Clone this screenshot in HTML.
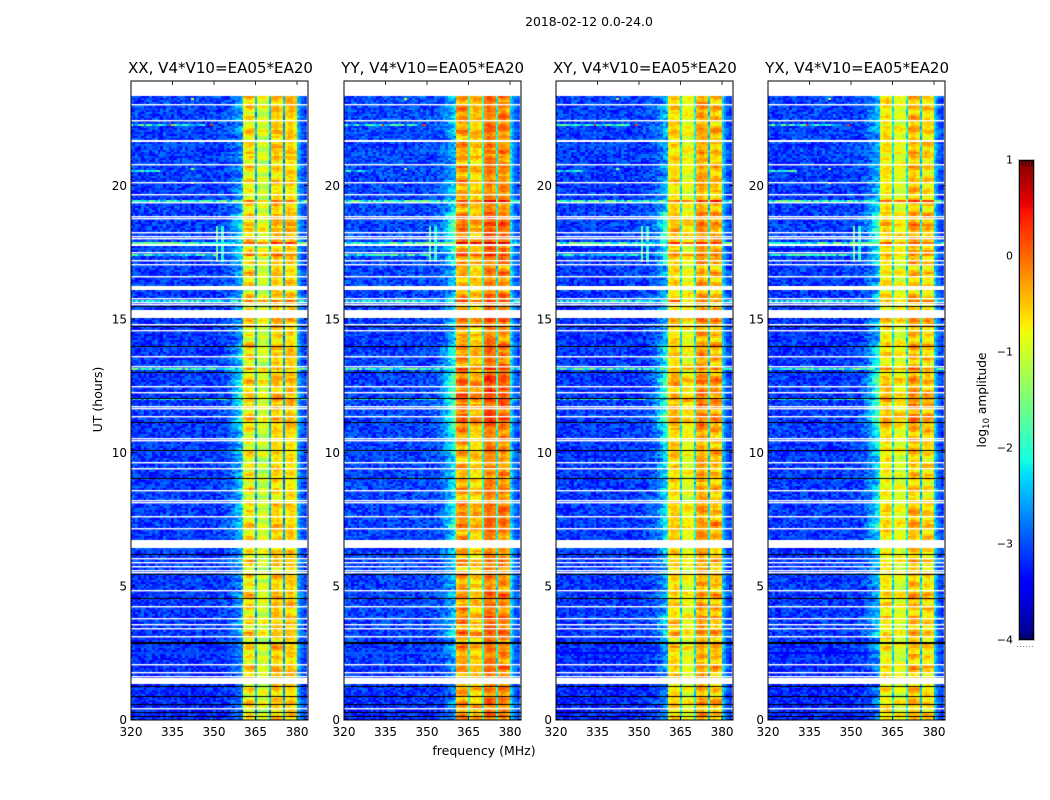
<!DOCTYPE html>
<html lang="en">
<head>
<meta charset="utf-8">
<title>2018-02-12 0.0-24.0</title>
<style>
html,body{margin:0;padding:0;background:#fff}
#figure{position:relative;width:1050px;height:800px;overflow:hidden;background:#fff;font-family:"DejaVu Sans","Liberation Sans",sans-serif}
canvas{position:absolute;display:block}
svg{position:absolute;left:0;top:0}
svg text{fill:#000;font-family:"DejaVu Sans","Liberation Sans",sans-serif}
</style>
</head>
<body>
<div id="figure">
<canvas id="cv0"></canvas>
<canvas id="cv1"></canvas>
<canvas id="cv2"></canvas>
<canvas id="cv3"></canvas>
<canvas id="cbar"></canvas>
<svg id="overlay" width="1050" height="800" xmlns="http://www.w3.org/2000/svg">
<text x="589" y="26" text-anchor="middle" font-size="12.4">2018-02-12 0.0-24.0</text>
<text x="484" y="755" text-anchor="middle" font-size="12.5">frequency (MHz)</text>
<text transform="translate(102,399.5) rotate(-90)" text-anchor="middle" font-size="12.5">UT (hours)</text>
<text transform="translate(986,400) rotate(-90)" text-anchor="middle" font-size="12.2">log<tspan font-size="8.5" dy="3">10</tspan><tspan dy="-3"> amplitude</tspan></text>
</svg>
</div>
<script>
/* ---------- chart data ---------- */
const panelTitles = ["XX, V4*V10=EA05*EA20","YY, V4*V10=EA05*EA20","XY, V4*V10=EA05*EA20","YX, V4*V10=EA05*EA20"];
const freqTicks = [320,335,350,365,380];
const hourTicks = [0,5,10,15,20];
const colorTicks = [1,0,-1,-2,-3,-4];
const colorTickLabels = ["1","0","\u22121","\u22122","\u22123","\u22124"];

/* log10 amplitude per 1 MHz channel, 320..383 MHz */
const spectrumXX = [-3.1,-3.1,-3.1,-3.15,-3.1,-3.15,-3.1,-3.1,-3.15,-3.1,-3.1,-3.15,-3.1,-3.1,-3.1,-3.15,-3.1,-3.1,-3.15,-3.1,-3.1,-3.1,-3.15,-3.1,-3.1,-3.1,-3.15,-3.1,-3.1,-3.1,-3.1,-3.1,-3.1,-3.1,-3.1,-3.1,-3.1,-3.1,-3.1,-3.1,-3.1,-0.9,-0.72,-0.66,-0.75,-2.55,-1.05,-1.0,-0.98,-1.05,-2.5,-0.62,-0.52,-0.52,-0.68,-2.65,-0.65,-0.55,-0.55,-0.7,-2.5,-2.7,-2.95,-3.1];
const spectrumYY = [-3.05,-3.05,-3.05,-3.1,-3.05,-3.1,-3.05,-3.05,-3.1,-3.05,-3.05,-3.1,-3.05,-3.05,-3.05,-3.1,-3.05,-3.05,-3.1,-3.05,-3.05,-3.05,-3.1,-3.05,-3.05,-3.05,-3.1,-3.05,-3.05,-3.05,-3.05,-3.05,-3.05,-3.05,-3.05,-3.05,-3.05,-3.05,-3.05,-3.05,-3.05,-0.5,-0.35,-0.3,-0.4,-2.1,-0.65,-0.55,-0.55,-0.62,-2.1,-0.22,-0.1,-0.1,-0.26,-2.2,-0.32,-0.16,-0.2,-0.4,-2.3,-2.6,-2.9,-3.05];
const spectrumXY = [-3.1,-3.1,-3.1,-3.15,-3.1,-3.15,-3.1,-3.1,-3.15,-3.1,-3.1,-3.15,-3.1,-3.1,-3.1,-3.15,-3.1,-3.1,-3.15,-3.1,-3.1,-3.1,-3.15,-3.1,-3.1,-3.1,-3.15,-3.1,-3.1,-3.1,-3.1,-3.1,-3.1,-3.1,-3.1,-3.1,-3.1,-3.1,-3.1,-3.1,-3.1,-0.8,-0.62,-0.58,-0.68,-2.3,-0.9,-0.85,-0.85,-0.92,-2.25,-0.45,-0.32,-0.32,-0.5,-2.4,-0.6,-0.45,-0.45,-0.6,-2.4,-2.7,-2.95,-3.1];
const spectrumYX = [-3.1,-3.1,-3.1,-3.15,-3.1,-3.15,-3.1,-3.1,-3.15,-3.1,-3.1,-3.15,-3.1,-3.1,-3.1,-3.15,-3.1,-3.1,-3.15,-3.1,-3.1,-3.1,-3.15,-3.1,-3.1,-3.1,-3.15,-3.1,-3.1,-3.1,-3.1,-3.1,-3.1,-3.1,-3.1,-3.1,-3.1,-3.1,-3.1,-3.1,-3.1,-0.88,-0.72,-0.68,-0.78,-2.3,-0.95,-0.9,-0.9,-0.98,-2.25,-0.58,-0.46,-0.46,-0.62,-2.4,-0.75,-0.62,-0.62,-0.75,-2.4,-2.7,-2.95,-3.1];

/* pass-band offset for each UT hour 0..23 */
const hourGainXX = [0,0.05,0,0.05,0.05,0,0.05,0,-0.1,-0.1,-0.05,0.1,0.1,0,-0.05,0.05,-0.05,0.1,0.15,-0.05,-0.05,0,0.05,0.08];
const hourGainYY = [0.05,0.05,0.05,0.2,0.05,0,0,0.15,0,-0.05,0.05,0.3,0.3,0.1,0,0.05,-0.05,0.15,0.25,0,0,0,0.1,0.05];
const hourGainXY = [0,0,0,0.1,0,0,0.05,0.1,-0.05,0,0.05,0.25,0.2,0.05,0,0,-0.05,0.1,0.2,-0.05,0,0,0.05,0];
const hourGainYX = [0,0,0,0.05,0.05,0,0,0.1,-0.05,-0.05,0.1,0.3,0.2,0.05,0,0,-0.05,0.1,0.2,0,0,0,0.05,0];

/* background level offset for each UT hour */
const backgroundHourly = [-0.12,-0.1,-0.06,-0.02,-0.02,-0.02,0,0,0,0,0,0,-0.02,-0.02,-0.04,-0.04,0,0,0.02,0,0,0.03,0.03,0.03];

/* width of the cyan shoulder below the band for each UT hour */
const shoulderHourly = [0.45,0.4,0.5,0.7,0.5,0.55,0.65,0.85,0.75,0.7,0.9,1.2,1.2,0.95,0.6,0.65,0.5,0.9,1.1,0.65,0.45,0.4,0.6,0.45];
const shoulderPanelScale = [0.72,1,0.95,1];
const shoulderChannels = [33,34,35,36,37,38,39,40];
const shoulderProfile = [0.05,0.1,0.18,0.3,0.42,0.6,0.8,1.0];

/* thin missing-data rows, UT hours */
const gapHours = [23.05,22.44,20.79,20.12,19.66,19.35,18.87,18.78,18.21,18.06,17.99,17.51,17.21,17.02,16.56,15.8,15.65,15.55,14.81,14.59,13.6,13.22,12.49,12.24,11.75,11.67,11.34,10.53,10.46,9.63,9.37,8.6,8.19,8.1,7.57,7.16,6.04,5.87,5.72,5.6,5.51,4.81,4.24,3.75,3.53,3.42,3.14,2.07,1.73,1.63,0.44];
/* wide missing-data blocks, UT hours */
const gapSpanStart = [21.72,17.77,16.17,15.09,6.47,1.4];
const gapSpanEnd = [21.72,17.77,16.25,15.3,6.72,1.55];
/* zero-amplitude rows, UT hours */
const blackHours = [15.44,14.69,13.95,12.97,12.04,11.09,10.1,9.03,6.15,5.4,4.52,1.23,0.89,0.58,0.23,0.08];
const thickBlackHours = [2.89];

/* interference rows */
const spikeHours = [19.46,17.88,17.4,15.72,13.14,11.99,22.3,20.58];
const spikeBgLevel = [-2.0,-1.9,-2.2,-2.2,-2.0,-2.3,-2.1,-2.2];
const spikeBandBoost = [0.65,0.65,0.3,0.35,0.35,0.3,0,0];
const spikeLastChannel = [63,63,30,63,63,63,26,10];

/* strong block right after the 15 h gap */
const flareStart = [14.85];
const flareEnd = [15.09];
const flareBoost = [0.42];

/* narrow-band interference burst */
const burstChannels = [31,33];
const burstLevels = [-1.65,-2.0];
const burstStart = 17.1;
const burstEnd = 18.5;

/* isolated bright cells */
const hotHours = [23.27,20.65,20.13,22.3,22.3];
const hotChannels = [22,22,22,14,29];
const hotLevels = [-1.0,-1.3,-1.0,0.4,0.3];

/* narrow notch channels drawn 2 px wide */
const notchChannels = [45,50,55,60];

/* channel-to-channel and row-to-row texture: a short hand-typed table repeated across the grid */
const speckleTable = [0.12,-0.2,0.05,0.28,-0.09,-0.26,0.17,0.02,-0.14,0.23,-0.03,0.3,-0.22,0.08,-0.17,0.14,-0.28,0.21,0.0,-0.07,0.26,-0.12,0.1,-0.24,0.18,-0.01,0.06,-0.3,0.25,-0.15,0.03,0.2,-0.19,0.11,-0.05,0.29,-0.27,0.15,-0.1,0.07,-0.21,0.24,0.01,-0.16,0.19,-0.04,0.27,-0.25,0.09,-0.11,0.22,-0.02,0.13,-0.29,0.16,-0.08,0.04,0.26,-0.18,0.1,-0.23,0.2,-0.06,0.31,-0.13,0.02,-0.2,0.17,-0.26,0.08,0.23,-0.09,0.14,-0.16,0.28,-0.03,-0.24,0.11,0.05,-0.12,0.19,-0.28,0.25,-0.07,0.0,0.16,-0.19,0.06,0.3,-0.22,0.12,-0.04,-0.15,0.21,-0.1,0.09,-0.27,0.18,0.03,-0.17,0.24];
const rowStripe = [0.05,0.12,0.12,-0.02,-0.14,-0.1,0.02,0.18,0.25,0.1,-0.06,-0.18,-0.2,0,0.06,0.14,-0.08,-0.22,-0.12,0.08,0.2,0.16,-0.04,-0.1,0.04,0.22,0.3,0.12,-0.12,-0.24,-0.08,0.1,0.02,-0.16,-0.06,0.14,0.24,0.08,-0.02,-0.2,-0.14,0.06,0.16,0.28,0.04,-0.1,-0.18,0.02,0.12,-0.06,0.2,0.1,-0.14];

const spectra = [spectrumXX,spectrumYY,spectrumXY,spectrumYX];
const hourGains = [hourGainXX,hourGainYY,hourGainXY,hourGainYX];

/* ---------- axis functions ---------- */
const AX_W = 177, AX_TOP = 81, AX_BOTTOM = 720;
const PX_PER_MHZ = 2.767, PX_PER_HOUR = 26.7, HOUR_ZERO_Y = 719.5;
const ROW_HOURS = 0.0749, ROW_COUNT = 312, BAND_FIRST = 41, BAND_LAST = 59;
function panelLeft(p){ return Math.round(131.2 + p * 212.4); }
function titleCenter(p){ return 220.5 + p * 212.2; }
function xOfFreq(f){ return (f - 320) * PX_PER_MHZ; }
function yOfHour(h){ return HOUR_ZERO_Y - h * PX_PER_HOUR; }
function rowOfHour(h){ return Math.floor(h / ROW_HOURS); }
function yOfValue(v){ return 160 + (1 - v) * 96; }

function lerpStops(t, stops){
  for (let i = 1; i < stops.length; i++) {
    if (t <= stops[i][0]) {
      const a = stops[i-1], b = stops[i];
      return a[1] + (b[1]-a[1]) * (t-a[0]) / (b[0]-a[0]);
    }
  }
  return stops[stops.length-1][1];
}
const jetR = [[0,0],[0.35,0],[0.66,1],[0.89,1],[1,0.5]];
const jetG = [[0,0],[0.125,0],[0.375,1],[0.64,1],[0.91,0],[1,0]];
const jetB = [[0,0.5],[0.11,1],[0.34,1],[0.65,0],[1,0]];
function colorOf(v){
  const t = Math.max(0, Math.min(1, (v + 4) / 5));
  return "rgb(" + Math.round(255*lerpStops(t,jetR)) + "," + Math.round(255*lerpStops(t,jetG)) + "," + Math.round(255*lerpStops(t,jetB)) + ")";
}

/* ---------- row classification ---------- */
const rowKind = new Array(ROW_COUNT).fill(0);
gapHours.forEach(function(h){ rowKind[rowOfHour(h)] = 4; });
gapSpanStart.forEach(function(s,i){
  for (let r = rowOfHour(s); r <= rowOfHour(gapSpanEnd[i]); r++) rowKind[r] = 1;
});
blackHours.forEach(function(h){ rowKind[rowOfHour(h)] = 2; });
thickBlackHours.forEach(function(h){ rowKind[rowOfHour(h)] = 3; });
const spikeByRow = {};
spikeHours.forEach(function(h,i){ spikeByRow[rowOfHour(h)] = i; });
const hotByCell = {};
hotHours.forEach(function(h,i){ hotByCell[rowOfHour(h) + "_" + hotChannels[i]] = i; });

function stripeAt(r){ return rowStripe[(r + Math.floor(r / rowStripe.length) * 17) % rowStripe.length]; }

function cellValue(p, r, ch){
  const hour = r * ROW_HOURS;
  const hi = Math.min(23, Math.floor(hour));
  const spec = spectra[p];
  const sp = speckleTable[(ch*37 + r*r*13 + r*ch*5 + p*29 + r*3) % speckleTable.length];
  const stripe = stripeAt(r);
  let v = spec[ch];
  if (ch >= BAND_FIRST && ch <= BAND_LAST) {
    const sub = Math.floor((ch - BAND_FIRST + 1) / 5);
    const own = stripeAt(r + sub * 13 + p * 7);
    v += hourGains[p][hi] + stripe * 0.75 + own * 0.95 + sp * 0.5;
    flareStart.forEach(function(s,i){ if (hour >= s && hour <= flareEnd[i]) v += flareBoost[i] - stripe * 0.7 - own * 0.8; });
  } else if (ch < BAND_FIRST) {
    v += sp * 1.15 + backgroundHourly[hi];
    const si = shoulderChannels.indexOf(ch);
    if (si >= 0) v += shoulderProfile[si] * shoulderHourly[hi] * shoulderPanelScale[p] * 1.25 + stripe * 0.9 * shoulderProfile[si];
  } else {
    v += sp * 0.7 + stripe * 0.5;
  }
  const bi = burstChannels.indexOf(ch);
  if (bi >= 0 && hour >= burstStart && hour <= burstEnd) v = burstLevels[bi] + sp * 0.4;
  const s = spikeByRow[r];
  if (s !== undefined) {
    if (ch >= BAND_FIRST && ch <= BAND_LAST) v += spikeBandBoost[s];
    else if (ch <= spikeLastChannel[s]) v = spikeBgLevel[s] + sp * 2.2;
  }
  const hot = hotByCell[r + "_" + ch];
  if (hot !== undefined) v = hotLevels[hot];
  return v;
}

/* ---------- heatmaps ---------- */
for (let p = 0; p < 4; p++) {
  const left = panelLeft(p);
  const cv = document.getElementById("cv" + p);
  cv.width = AX_W; cv.height = AX_BOTTOM - AX_TOP;
  cv.style.left = left + "px";
  cv.style.top = AX_TOP + "px";
  const ctx = cv.getContext("2d");
  for (let r = 0; r < ROW_COUNT; r++) {
    if (rowKind[r] === 1) continue;
    const y1 = Math.round(yOfHour((r+1)*ROW_HOURS)) - AX_TOP;
    const y2 = Math.round(yOfHour(r*ROW_HOURS)) - AX_TOP;
    if (rowKind[r] === 3) {
      ctx.fillStyle = "#000";
      ctx.fillRect(0, y1, AX_W, y2 - y1);
      continue;
    }
    for (let ch = 0; ch < 64; ch++) {
      const x1 = Math.max(0, Math.round(xOfFreq(320 + ch - 0.4)));
      const x2 = Math.min(AX_W, Math.round(xOfFreq(320 + ch + 0.6)));
      const h = y2 - y1;
      if (notchChannels.indexOf(ch) >= 0) {
        ctx.fillStyle = colorOf(cellValue(p, r, ch - 1));
        ctx.fillRect(x1, y1, 1, h);
        ctx.fillStyle = colorOf(cellValue(p, r, ch));
        ctx.fillRect(x1 + 1, y1, x2 - x1 - 1, h);
      } else {
        ctx.fillStyle = colorOf(cellValue(p, r, ch));
        ctx.fillRect(x1, y1, x2 - x1, h);
      }
    }
    if (rowKind[r] === 2) {
      ctx.fillStyle = "#000";
      ctx.fillRect(0, y1, AX_W, 1);
    }
    if (rowKind[r] === 4) {
      ctx.clearRect(0, y1, AX_W, 1);
      ctx.fillStyle = "rgba(255,255,255,0.4)";
      ctx.fillRect(0, y1 + 1, AX_W, 1);
    }
  }
}

/* ---------- axes ---------- */
const NS = "http://www.w3.org/2000/svg";
const svg = document.getElementById("overlay");
function svgEl(tag, attrs){
  const el = document.createElementNS(NS, tag);
  Object.keys(attrs).forEach(function(k){ el.setAttribute(k, attrs[k]); });
  svg.appendChild(el);
  return el;
}
for (let p = 0; p < 4; p++) {
  const left = panelLeft(p);
  const frame = svgEl("rect", {x:left, y:AX_TOP, width:AX_W, height:AX_BOTTOM-AX_TOP, fill:"none", stroke:"#000", "stroke-width":1});
  
  
  const title = svgEl("text", {x:titleCenter(p), y:73, "text-anchor":"middle", "font-size":15.05});
  title.textContent = panelTitles[p];
  
  
  freqTicks.forEach(function(f){
    const x = left + xOfFreq(f);
    const t1 = svgEl("line", {x1:x, x2:x, y1:AX_BOTTOM, y2:AX_BOTTOM-4, stroke:"#000", "stroke-width":0.8});
    
    
    const t2 = svgEl("line", {x1:x, x2:x, y1:AX_TOP, y2:AX_TOP+4, stroke:"#000", "stroke-width":0.8});
    
    
    const lab = svgEl("text", {x:x, y:736, "text-anchor":"middle", "font-size":12});
    lab.textContent = String(f);
    
    
  });
  hourTicks.forEach(function(h){
    const y = yOfHour(h);
    const t1 = svgEl("line", {x1:left, x2:left+4, y1:y, y2:y, stroke:"#000", "stroke-width":0.8});
    
    
    const t2 = svgEl("line", {x1:left+AX_W, x2:left+AX_W-4, y1:y, y2:y, stroke:"#000", "stroke-width":0.8});
    
    
    const lab = svgEl("text", {x:left-4, y:y+4.5, "text-anchor":"end", "font-size":12});
    lab.textContent = String(h);
    
    
  });
}

/* ---------- colorbar ---------- */
const cb = document.getElementById("cbar");
cb.width = 15; cb.height = 480;
cb.style.left = "1019px"; cb.style.top = "160px";
const cbCtx = cb.getContext("2d");
for (let i = 0; i < 480; i++) {
  cbCtx.fillStyle = colorOf(1 - (i + 0.5) / 96);
  cbCtx.fillRect(0, i, 15, 1);
}
const cbFrameOuter = svgEl("rect", {x:1018.5, y:159.5, width:16, height:481, fill:"none", stroke:"#bbb", "stroke-width":1});


const cbFrameInner = svgEl("rect", {x:1019.5, y:160.5, width:14, height:479, fill:"none", stroke:"#000", "stroke-width":1});


colorTicks.forEach(function(v,i){
  const lab = svgEl("text", {x:1013, y:yOfValue(v)+3.5, "text-anchor":"end", "font-size":11});
  lab.textContent = colorTickLabels[i];
  
  
});
[1022.5,1025.5,1029,1032].forEach(function(x){
  const a = svgEl("line", {x1:x, x2:x, y1:161, y2:166, stroke:"#000", "stroke-width":1, opacity:0.75});
  
  
  const b = svgEl("line", {x1:x, x2:x, y1:634, y2:639, stroke:"#000", "stroke-width":1, opacity:0.45});
  
  
});
const cbDots = svgEl("line", {x1:1017, x2:1035, y1:646.5, y2:646.5, stroke:"#888", "stroke-width":1, "stroke-dasharray":"1 2"});


</script>
</body>
</html>
